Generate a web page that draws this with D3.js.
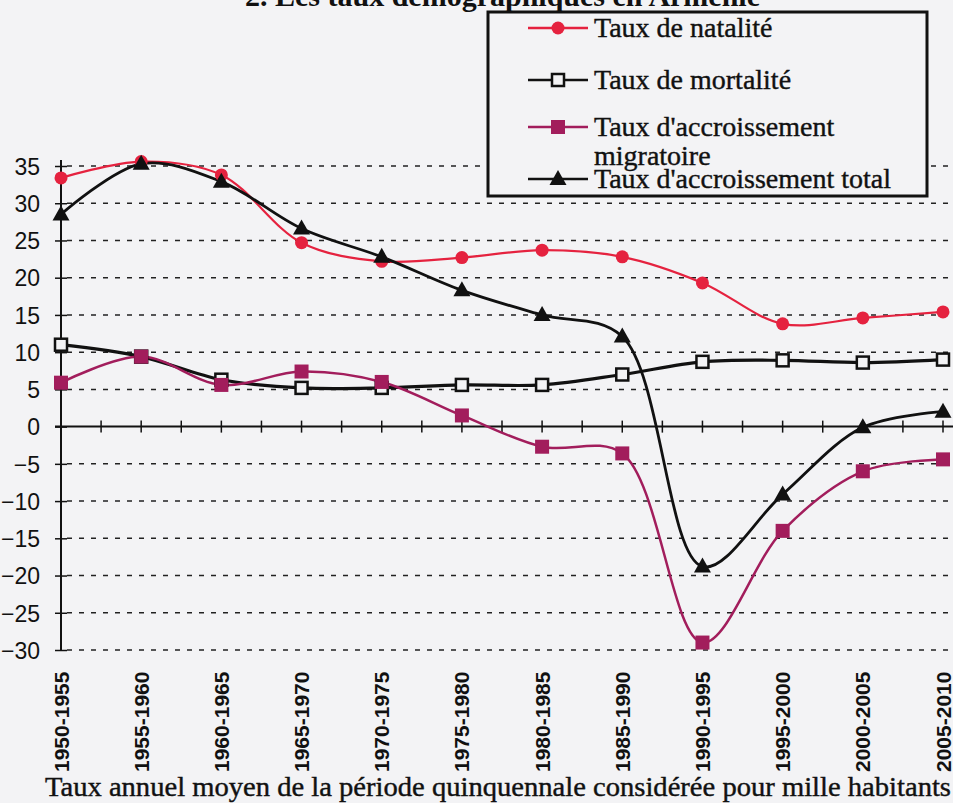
<!DOCTYPE html>
<html>
<head>
<meta charset="utf-8">
<script src="https://cdn.jsdelivr.net/npm/d3@7"></script>
<style>
  body { margin: 0; background: #f3f3f5; }
  svg { display: block; }
</style>
</head>
<body>
<div id="chart"></div>
<script>
// five-year periods
var periods = ["1950-1955", "1955-1960", "1960-1965", "1965-1970", "1970-1975", "1975-1980",
               "1980-1985", "1985-1990", "1990-1995", "1995-2000", "2000-2005", "2005-2010"];

// rates per thousand
var natalite    = [33.4, 35.6, 33.8, 24.7, 22.2, 22.7, 23.7, 22.8, 19.3, 13.8, 14.6, 15.4];
var mortalite   = [11.0, 9.4, 6.3, 5.2, 5.2, 5.6, 5.6, 7.0, 8.7, 8.9, 8.6, 9.0];
var migratoire  = [5.9, 9.4, 5.6, 7.4, 6.0, 1.5, -2.7, -3.6, -29.0, -14.0, -6.0, -4.4];
var total       = [28.5, 35.3, 32.9, 26.6, 22.8, 18.3, 15.0, 12.1, -18.8, -9.1, -0.1, 2.0];

var yTicks = [35, 30, 25, 20, 15, 10, 5, 0, -5, -10, -15, -20, -25, -30];

var W = 953, H = 803;

var svg = d3.select("#chart").append("svg")
    .attr("width", W)
    .attr("height", H);

var x = d3.scalePoint().domain(periods).range([61, 943]);
var y = d3.scaleLinear().domain([-30, 35]).range([650, 166]);

// title, mostly cut off by the page top
svg.append("text")
    .attr("x", 245).attr("y", 6)
    .style("font", "bold 30px 'Liberation Serif', serif")
    .style("fill", "#111")
    .text("2. Les taux démographiques en Arménie");

// dashed grid
svg.append("g").selectAll("line")
    .data(yTicks.filter(function(d) { return d != 0; }))
    .enter().append("line")
    .attr("x1", 67).attr("x2", W)
    .attr("y1", function(d) { return y(d); })
    .attr("y2", function(d) { return y(d); })
    .style("stroke", "#222")
    .style("stroke-width", 1.5)
    .style("stroke-dasharray", "5,7");

// y axis
var yAxis = d3.axisLeft(y).tickValues(yTicks).tickSize(6).tickPadding(15);
var gy = svg.append("g")
    .attr("transform", "translate(61,0)")
    .call(yAxis);
gy.select(".domain").remove();
gy.selectAll(".tick line").attr("x1", -6).attr("x2", 6).style("stroke", "#111").style("stroke-width", 1.5);
gy.selectAll(".tick text")
    .style("font", "23px 'Liberation Sans', Arial, sans-serif")
    .style("fill", "#111")
    .attr("dy", "0.36em");
gy.append("line")
    .attr("x1", 0).attr("x2", 0)
    .attr("y1", y(35) - 6).attr("y2", y(-30))
    .style("stroke", "#111").style("stroke-width", 2);

// x axis on zero, ticks at each period and half way between
var xpos = periods.map(function(p) { return x(p); });
var tickX = xpos.slice();
d3.pairs(xpos).forEach(function(p) { tickX.push((p[0] + p[1]) / 2); });
var gx = svg.append("g");
gx.append("line")
    .attr("x1", 55).attr("x2", W)
    .attr("y1", y(0)).attr("y2", y(0))
    .style("stroke", "#111").style("stroke-width", 2);
gx.selectAll(".xt")
    .data(tickX.filter(function(d) { return d > 62; }))
    .enter().append("line")
    .attr("class", "xt")
    .attr("x1", function(d) { return d; }).attr("x2", function(d) { return d; })
    .attr("y1", y(0) - 6).attr("y2", y(0) + 6)
    .style("stroke", "#111").style("stroke-width", 1.5);

// rotated period labels
svg.append("g").selectAll("text")
    .data(periods)
    .enter().append("text")
    .attr("transform", function(d) { return "translate(" + x(d) + ",772) rotate(-90)"; })
    .attr("dy", "0.36em")
    .style("text-anchor", "start")
    .style("font", "bold 21px 'Liberation Sans', Arial, sans-serif")
    .style("fill", "#111")
    .text(function(d) { return d; });

// x axis title
svg.append("text")
    .attr("x", 45).attr("y", 796)
    .style("font", "27px 'Liberation Serif', serif")
    .style("fill", "#111")
    .style("stroke", "#111").style("stroke-width", 0.4)
    .attr("textLength", 906)
    .attr("lengthAdjust", "spacingAndGlyphs")
    .text("Taux annuel moyen de la période quinquennale considérée pour mille habitants");

var line = d3.line()
    .x(function(d, i) { return x(periods[i]); })
    .y(function(d) { return y(d); })
    .curve(d3.curveCatmullRom.alpha(0.5));

var series = [
    {name: "natalite", values: natalite, color: "#e5223f", width: 2.2, marker: "circle"},
    {name: "mortalite", values: mortalite, color: "#111", width: 3.2, marker: "open"},
    {name: "migratoire", values: migratoire, color: "#a21d5c", width: 2.5, marker: "square"},
    {name: "total", values: total, color: "#111", width: 2.8, marker: "triangle"}
];

function drawMarker(g, type, color) {
    if (type == "circle") {
        g.append("circle").attr("r", 6.5).style("fill", color);
    } else if (type == "open") {
        g.append("rect").attr("x", -6).attr("y", -6).attr("width", 12).attr("height", 12)
            .style("fill", "#f3f3f5").style("stroke", "#111").style("stroke-width", 2.5);
    } else if (type == "square") {
        g.append("rect").attr("x", -7).attr("y", -7).attr("width", 14).attr("height", 14)
            .style("fill", color);
    } else {
        g.append("path").attr("d", "M0,-9L8.5,6L-8.5,6Z").style("fill", color);
    }
}

// series: lines then markers
series.forEach(function(s) {
    svg.append("path")
        .datum(s.values)
        .attr("d", line)
        .style("fill", "none")
        .style("stroke", s.color)
        .style("stroke-width", s.width);
});
series.forEach(function(s) {
    svg.append("g").selectAll("g")
        .data(s.values)
        .enter().append("g")
        .attr("transform", function(d, i) { return "translate(" + x(periods[i]) + "," + y(d) + ")"; })
        .each(function() { drawMarker(d3.select(this), s.marker, s.color); });
});

// legend
var legend = svg.append("g");
legend.append("rect")
    .attr("x", 488).attr("y", 12)
    .attr("width", 439).attr("height", 184)
    .style("fill", "#f3f3f5")
    .style("stroke", "#111")
    .style("stroke-width", 3);

var legendItems = [
    {s: series[0], y: 28, lines: ["Taux de natalité"]},
    {s: series[1], y: 80, lines: ["Taux de mortalité"]},
    {s: series[2], y: 127, lines: ["Taux d'accroissement", "migratoire"]},
    {s: series[3], y: 179, lines: ["Taux d'accroissement total"]}
];
legendItems.forEach(function(it) {
    var g = legend.append("g").attr("transform", "translate(0," + it.y + ")");
    g.append("line")
        .attr("x1", 528).attr("x2", 588)
        .style("stroke", it.s.color)
        .style("stroke-width", 2.5);
    drawMarker(g.append("g").attr("transform", "translate(558,0)"), it.s.marker, it.s.color);
    it.lines.forEach(function(t, k) {
        g.append("text")
            .attr("x", 594).attr("y", 9 + k * 29)
            .style("font", "28px 'Liberation Serif', serif")
            .style("fill", "#111")
            .style("stroke", "#111").style("stroke-width", 0.4)
            .text(t);
    });
});
</script>
</body>
</html>
